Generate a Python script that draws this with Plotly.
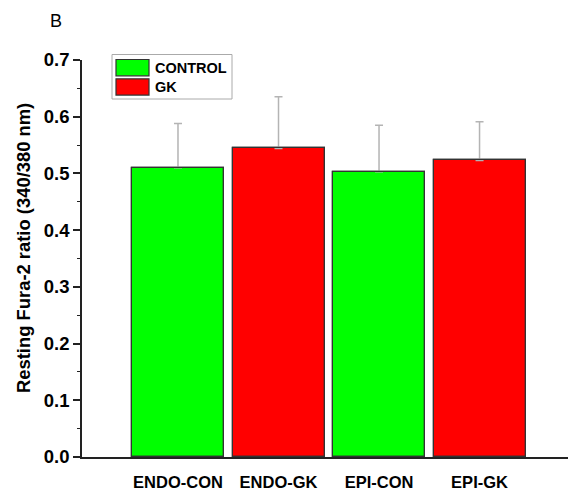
import plotly.graph_objects as go

categories = ["ENDO-CON", "ENDO-GK", "EPI-CON", "EPI-GK"]
groups = ["CONTROL", "GK", "CONTROL", "GK"]
means = [0.510, 0.544, 0.503, 0.523]
errors = [0.078, 0.091, 0.082, 0.068]
legend_names = ["CONTROL", "GK"]
colors = {"CONTROL": "#00ff00", "GK": "#ff0000"}
y_ticks = [0.0, 0.1, 0.2, 0.3, 0.4, 0.5, 0.6, 0.7]
y_title = "Resting Fura-2 ratio (340/380 nm)"
panel_label = "B"

FONT = "Arial, 'Liberation Sans', sans-serif"

fig = go.Figure()
xs = list(range(len(categories)))
fig.add_trace(go.Bar(
    x=xs, y=means, width=0.915,
    marker=dict(color=[colors[g] for g in groups], line=dict(color="#333333", width=1.2)),
    error_y=dict(type="data", symmetric=False, array=errors, arrayminus=[0]*len(errors),
                 color="#b4b4b4", thickness=1.5, width=4),
    showlegend=False, hoverinfo="skip",
))
# outline-only overlay so the bar border sits above the error-bar lower cap
fig.add_trace(go.Bar(
    x=xs, y=means, width=0.915,
    marker=dict(color="rgba(0,0,0,0)", line=dict(color="#333333", width=1.2)),
    showlegend=False, hoverinfo="skip",
))

W, H = 568, 492
L, R, T, B = 82, 0, 60, 35
pw, ph = W - L - R, H - T - B

def px(xp):
    return (xp - L) / pw

def py(yp):
    return (H - B - yp) / ph

shapes = []
annotations = []
# legend box
shapes.append(dict(type="rect", xref="paper", yref="paper",
                   x0=px(112), x1=px(232), y0=py(99), y1=py(54.5),
                   line=dict(color="#aaaaaa", width=1), fillcolor="white"))
for i, name in enumerate(legend_names):
    y_top = 59.5 + i * 19.3
    shapes.append(dict(type="rect", xref="paper", yref="paper",
                       x0=px(116), x1=px(149), y0=py(y_top + 16.3), y1=py(y_top),
                       line=dict(color="#333333", width=1.2), fillcolor=colors[name]))
    annotations.append(dict(xref="paper", yref="paper", x=px(153), y=py(y_top + 8.3),
                            text=name, showarrow=False, xanchor="left", yanchor="middle",
                            font=dict(family=FONT, size=14.5, color="black", weight="bold")))

annotations.append(dict(xref="paper", yref="paper", x=px(55.5), y=py(21.5), text=panel_label,
                        showarrow=False, xanchor="center", yanchor="middle",
                        font=dict(family=FONT, size=18, color="black")))
annotations.append(dict(xref="paper", yref="paper", x=px(24), y=py(248), text=y_title,
                        showarrow=False, xanchor="center", yanchor="middle", textangle=-90,
                        font=dict(family=FONT, size=18.4, color="black", weight="bold")))

fig.update_layout(
    width=W, height=H,
    margin=dict(l=L, r=R, t=T, b=B),
    paper_bgcolor="white", plot_bgcolor="white",
    shapes=shapes, annotations=annotations,
    bargap=0, barmode="overlay",
    xaxis=dict(range=[-0.955, 3.88], tickvals=xs, ticktext=categories, showgrid=False,
               zeroline=False, showline=True, linecolor="#222222", linewidth=1.5,
               ticks="", tickfont=dict(family=FONT, size=16.5, color="black", weight="bold"),
               ticklabelstandoff=9),
    yaxis=dict(range=[0, 0.7], tickvals=y_ticks, ticktext=[f"{v:.1f}" for v in y_ticks],
               showgrid=False, zeroline=False, showline=True, linecolor="#222222", linewidth=1.5,
               ticks="outside", ticklen=7, tickwidth=1.5, tickcolor="#222222",
               minor=dict(dtick=0.05, tick0=0, ticks="outside", ticklen=3, tickwidth=1.2, tickcolor="#222222"),
               tickfont=dict(family=FONT, size=18.5, color="black", weight="bold")),
)

fig.write_html("out.html", config={"displayModeBar": False},
               post_script="document.body.style.margin='0';document.body.style.overflow='hidden';")
